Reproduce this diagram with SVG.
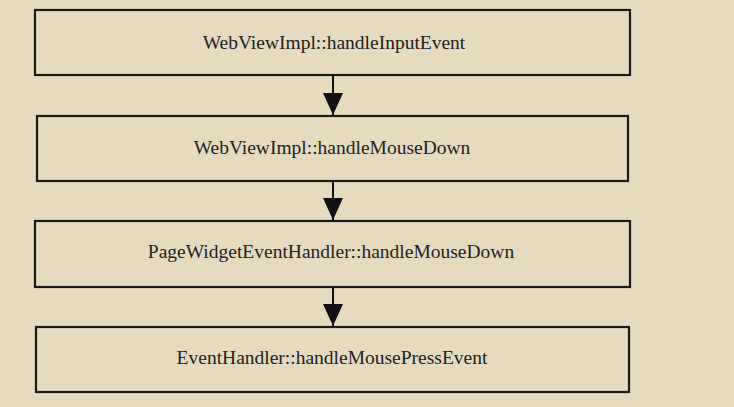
<svg xmlns="http://www.w3.org/2000/svg" width="734" height="407" viewBox="0 0 734 407">
<defs>
<style>
.box{fill:none;stroke:#1a1a1a;stroke-width:2.2}
.lbl{font-family:"Liberation Serif","Times New Roman",serif;font-size:19.5px;fill:#222;text-anchor:middle}
.conn{stroke:#111;stroke-width:2;fill:none}
</style>
<marker id="ah" markerWidth="22" markerHeight="20" refX="22" refY="10" orient="auto" markerUnits="userSpaceOnUse" viewBox="0 0 22 20">
<path d="M0,0 L22,10 L0,20 Z" fill="#111"/>
</marker>
</defs>
<rect width="734" height="407" fill="#e6dbbe"/>
<g id="node1"><rect class="box" x="35" y="10" width="595" height="65"/><text class="lbl" x="334" y="49">WebViewImpl::handleInputEvent</text></g>
<g id="node2"><rect class="box" x="37" y="116" width="591" height="65"/><text class="lbl" x="332" y="154">WebViewImpl::handleMouseDown</text></g>
<g id="node3"><rect class="box" x="35" y="221" width="595" height="66"/><text class="lbl" x="331" y="258">PageWidgetEventHandler::handleMouseDown</text></g>
<g id="node4"><rect class="box" x="36" y="327" width="593" height="65"/><text class="lbl" x="332" y="364">EventHandler::handleMousePressEvent</text></g>
<g id="connectors">
<line class="conn" x1="333" y1="75" x2="333" y2="115" marker-end="url(#ah)"/>
<line class="conn" x1="333" y1="181" x2="333" y2="220" marker-end="url(#ah)"/>
<line class="conn" x1="333" y1="287" x2="333" y2="326" marker-end="url(#ah)"/>
</g>
</svg>
